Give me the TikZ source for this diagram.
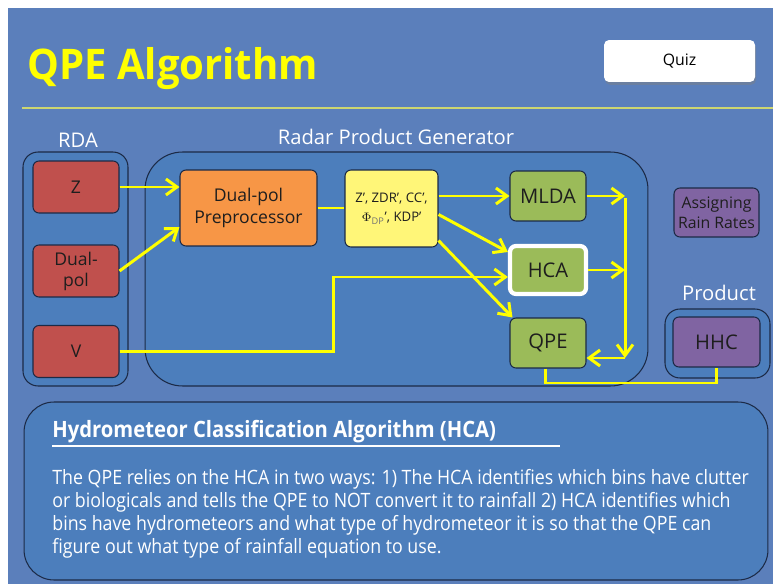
\documentclass[tikz,border=0pt]{standalone}
\usepackage{fontspec}
\setmainfont{Open Sans}
\newfontfamily\condfont{Open Sans}[FakeStretch=0.9]
\newfontfamily\titlefont{Open Sans}[FakeStretch=0.95]
\usepackage{tikz}
\usetikzlibrary{arrows.meta,shadows}

\definecolor{pagebg}{RGB}{91,127,187}
\definecolor{panelbg}{RGB}{76,126,188}
\definecolor{paneledge}{RGB}{28,42,70}
\definecolor{rdared}{RGB}{192,80,77}
\definecolor{preporange}{RGB}{247,150,70}
\definecolor{paramyellow}{RGB}{255,246,120}
\definecolor{algogreen}{RGB}{155,187,89}
\definecolor{prodpurple}{RGB}{128,100,162}
\definecolor{flowyellow}{RGB}{255,255,0}
\definecolor{ruleline}{RGB}{205,214,112}
\definecolor{boxtext}{RGB}{30,30,30}

\begin{document}
\begin{tikzpicture}[
            x=0.02cm, y=-0.02cm,
            box/.style={draw=paneledge,line width=0.6pt,rounded corners=0.12cm,
                text=boxtext,align=center,inner sep=1pt},
            rdabox/.style={box,fill=rdared,minimum width=1.72cm,minimum height=1.04cm,
                font=\fontsize{10}{12}\selectfont},
            algobox/.style={box,fill=algogreen,minimum width=1.52cm,minimum height=1.0cm,
                font=\fontsize{11.5}{13}\selectfont},
            panel/.style={draw=paneledge,line width=0.6pt,fill=panelbg},
            heading/.style={text=white,font=\fontsize{11.5}{13}\selectfont},
            flow/.style={draw=flowyellow,line width=1.7pt,
                -{Straight Barb[length=2.2mm,width=3.2mm,line width=1.7pt]}},
            link/.style={draw=flowyellow,line width=1.7pt}
        ]

            \useasboundingbox (0,0) rectangle (773,584);
            \fill[white] (0,0) rectangle (773,584);
            \fill[pagebg] (8,8) rectangle (773,584);

            % Title bar
            \node[anchor=base west,text=flowyellow,inner sep=0pt,
                font=\titlefont\fontsize{24}{28}\bfseries\selectfont] (title) at (27,80) {QPE Algorithm};
            \node[fill=white,rounded corners=0.1cm,minimum width=3.02cm,minimum height=0.84cm,
                drop shadow={shadow xshift=0.6pt,shadow yshift=-1.6pt,opacity=0.45},
                font=\fontsize{9}{11}\selectfont] (quiz) at (679.5,61) {Quiz};
            \draw[ruleline,line width=0.8pt] (22,108) -- (773,108);

            % Containers
            \node[panel,rounded corners=0.3cm,minimum width=2.10cm,minimum height=4.68cm] (rda) at (75.5,269) {};
            \node[panel,rounded corners=0.75cm,minimum width=10.06cm,minimum height=4.68cm] (rpg) at (396.5,269) {};
            \node[panel,rounded corners=0.3cm,minimum width=2.10cm,minimum height=1.38cm] (product) at (717.5,343.5) {};
            \node[heading] (rdalabel) at (78,140) {RDA};
            \node[heading] (rpglabel) at (396,137) {Radar Product Generator};
            \node[heading] (productlabel) at (719,293) {Product};

            % RDA inputs
            \node[rdabox] (z) at (76,187) {Z};
            \node[rdabox] (dualpol) at (76,271) {Dual-\\pol};
            \node[rdabox] (v) at (76,351.5) {V};

            % Radar Product Generator
            \node[box,fill=preporange,minimum width=2.74cm,minimum height=1.52cm,
                font=\fontsize{10}{13}\selectfont] (prep) at (248.5,208) {Dual-pol\\Preprocessor};
            \node[box,fill=paramyellow,minimum width=1.86cm,minimum height=1.54cm,
                font=\fontsize{7.5}{11}\selectfont] (params) at (391.5,208.5)
                {Z’, ZDR’, CC’,\\$\Phi$\textsubscript{\textcolor{black!55}{DP}}’, KDP’};
            \node[algobox] (mlda) at (548,196) {MLDA};
            \node[algobox,draw=white,line width=2.4pt,minimum height=0.96cm] (hca) at (548,270) {HCA};
            \node[algobox] (qpe) at (548,343) {QPE};

            % Products
            \node[box,fill=prodpurple,minimum width=1.70cm,minimum height=0.98cm,
                font=\fontsize{9}{11.5}\selectfont] (rainrates) at (716.5,212.5) {Assigning\\Rain Rates};
            \node[box,fill=prodpurple,minimum width=1.74cm,minimum height=1.0cm,
                font=\fontsize{11.5}{13}\selectfont] (hhc) at (716.5,342) {HHC};

            % Connectors
            \coordinate (vbend) at (333,347);
            \coordinate (bustop) at (625,198);
            \coordinate (busbot) at (625,358);
            \coordinate (qpelow) at (630,383);

            \draw[flow] (z.east) -- (z.east -| prep.west);
            \draw[flow] (dualpol.east) -- ([yshift=-0.38cm]prep.west);
            \draw[flow] (v.east) -- (vbend |- v.east) |- ([yshift=-0.14cm]hca.west);
            \draw[link] (prep.east) -- (prep.east -| params.west);
            \draw[flow] (params.east |- mlda.west) -- (mlda.west);
            \draw[flow] ([yshift=-0.12cm]params.east) -- ([yshift=0.36cm]hca.west);
            \draw[flow] ([yshift=0.14cm]params.south east) -- ([xshift=0.06cm]qpe.north west);
            \draw[flow] (mlda.east) -- (mlda.east -| bustop);
            \draw[flow] (hca.east) -- (hca.east -| bustop);
            \draw[flow] (bustop) -- (busbot);
            \draw[flow] (busbot) -- (busbot -| qpe.east);
            \draw[link] ([xshift=-0.06cm]qpe.south) |- (qpelow) -| (hhc.south);

            % Description
            \node[panel,rounded corners=0.6cm,minimum width=14.88cm,minimum height=3.56cm] (info) at (396,491) {};
            \node[anchor=base west,inner sep=0pt,text=white,
                font=\condfont\fontsize{12.8}{15}\bfseries\selectfont] (infohead) at (52,437)
                {Hydrometeor Classification Algorithm (HCA)};
            \draw[white,line width=0.6pt] (infohead.west |- 0,446) -- (560,446);
            \node[anchor=north west,inner sep=0pt,text=white,align=left,
                font=\condfont\fontsize{11.25}{13.1}\selectfont] (infotext) at (52,469)
                {The QPE relies on the HCA in two ways: 1) The HCA identifies which bins have clutter\\
                 or biologicals and tells the QPE to NOT convert it to rainfall 2) HCA identifies which\\
                 bins have hydrometeors and what type of hydrometeor it is so that the QPE can\\
                 figure out what type of rainfall equation to use.};
        \end{tikzpicture}
\end{document}
